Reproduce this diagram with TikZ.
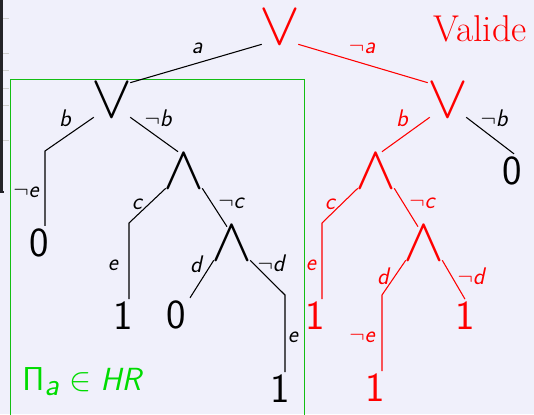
\documentclass[tikz,border=0pt]{standalone}
\usepackage{graphicx}
\usepackage{tikz}
\usetikzlibrary{calc}
\definecolor{slidebg}{RGB}{240,240,251}
\definecolor{framegray}{RGB}{35,35,40}
\definecolor{validred}{RGB}{255,0,0}
\definecolor{hrgreen}{RGB}{0,220,0}
\definecolor{boxgreen}{RGB}{20,190,20}
\newcommand{\opsym}[1]{\makebox[0pt]{\scalebox{4.6}{$#1$}}}
\tikzset{
  op/.style={inner sep=0pt, minimum width=27pt, minimum height=25.5pt},
  leaf/.style={inner sep=2pt, font=\sffamily\fontsize{31}{31}\selectfont},
  lbl/.style={inner sep=0pt, font=\sffamily\fontsize{18}{18}\selectfont\itshape},
  edge/.style={line width=0.8pt},
  hot/.style={validred}
}
\begin{document}
\begin{tikzpicture}[x=0.75pt,y=-0.75pt]

  % --- slide background ---
  \fill[slidebg] (0,0) rectangle (534,414);
  \useasboundingbox (0,0) rectangle (534,414);
  \draw[framegray, line width=2.2pt] (1.5,0) -- (1.5,192) -- (4,192);
  \foreach \ty in {18,53,70,88,105,140}
    \draw[gray!40, line width=0.4pt] (3,\ty) -- (9,\ty);

  % --- the sub-proof box ---
  \draw[boxgreen, line width=0.7pt] (10,420) -- (10,79) -- (304,79) -- (304,420);
  \node[text=hrgreen, inner sep=0pt, font=\sffamily\fontsize{24}{24}\selectfont, anchor=west]
       (hr) at (22,382) {$\mathsf{\Pi}_{\textsf{\textit{a}}}\in\textsf{\textit{HR}}$};

  % --- title ---
  \node[hot, font=\fontsize{28}{28}\selectfont] (valide) at (480,29) {Valide};

  % --- operators ---
  \node[op, hot] (root) at (280,27) {\opsym{\vee}};
  \node[op] (orL) at (112,100) {\opsym{\vee}};
  \node[op, hot] (orR) at (448,100) {\opsym{\vee}};
  \node[op] (andL) at (184,171) {\opsym{\wedge}};
  \node[op] (andLL) at (232,243) {\opsym{\wedge}};
  \node[op, hot] (andR) at (376,171) {\opsym{\wedge}};
  \node[op, hot] (andRR) at (424,243) {\opsym{\wedge}};

  % --- leaves ---
  \node[leaf] (z1) at (39,243) {0};
  \node[leaf] (o1) at (123,316) {1};
  \node[leaf] (z2) at (176,315) {0};
  \node[leaf] (o2) at (280,389) {1};
  \node[leaf] (z3) at (512,171) {0};
  \node[leaf, hot] (o3) at (315,316) {1};
  \node[leaf, hot] (o4) at (375,388) {1};
  \node[leaf, hot] (o5) at (465,316) {1};

  % --- bends ---
  \coordinate (kb) at (45,151);
  \coordinate (kc) at (129,223);
  \coordinate (kd) at (285,295);
  \coordinate (kc2) at (322,223);
  \coordinate (kd2) at (382,295);

  % ---------------- edges ----------------
  \draw[edge] (root.south west) -- (orL.north east);
  \draw[edge, hot] (root.south east) -- ($(orR.north west)+(-2,0)$);

  \draw[edge] (orL.south west) -- (kb) -- (kb |- z1.north);
  \draw[edge] (orL.south east) -- ($(andL.north)+(-6,-2)$);

  \draw[edge] (andL.south west) -- (kc) -- (kc |- o1.north);
  \draw[edge] (andL.south east) -- ($(andLL.north)+(-5,1)$);

  \draw[edge] (andLL.south west) -- ($(z2.north)+(14,0)$);
  \draw[edge] (andLL.south east) -- (kd) -- (kd |- o2.north);

  \draw[edge, hot] (orR.south west) -- ($(andR.north)+(6,-2)$);
  \draw[edge] (orR.south east) -- ($(z3.north)+(2,0)$);

  \draw[edge, hot] (andR.south west) -- (kc2) -- (kc2 |- o3.north);
  \draw[edge, hot] (andR.south east) -- ($(andRR.north)+(-6,1)$);

  \draw[edge, hot] (andRR.south west) -- (kd2) -- (kd2 |- o4.north);
  \draw[edge, hot] (andRR.south east) -- (o5.north);

  % ---------------- labels ----------------
  \node[lbl] (la) at (197,48) {a};
  \node[lbl, hot] (lna) at (362,48) {$\neg$a};
  \node[lbl] (lb) at (65,118) {b};
  \node[lbl] (lnb) at (158,118) {$\neg$b};
  \node[lbl] (lne) at (26,192) {$\neg$e};
  \node[lbl] (lc) at (137,204) {c};
  \node[lbl] (lnc) at (231,203) {$\neg$c};
  \node[lbl] (le) at (113,265) {e};
  \node[lbl] (ld) at (196,264) {d};
  \node[lbl] (lnd) at (271,263) {$\neg$d};
  \node[lbl] (le2) at (293,337) {e};
  \node[lbl, hot] (lb2) at (402,118) {b};
  \node[lbl] (lnb2) at (494,118) {$\neg$b};
  \node[lbl, hot] (lc2) at (330,204) {c};
  \node[lbl, hot] (lnc2) at (422,203) {$\neg$c};
  \node[lbl, hot] (le3) at (311,265) {e};
  \node[lbl, hot] (ld2) at (383,276) {d};
  \node[lbl, hot] (lnd2) at (471,276) {$\neg$d};
  \node[lbl, hot] (lne2) at (362,337) {$\neg$e};

\end{tikzpicture}
\end{document}
